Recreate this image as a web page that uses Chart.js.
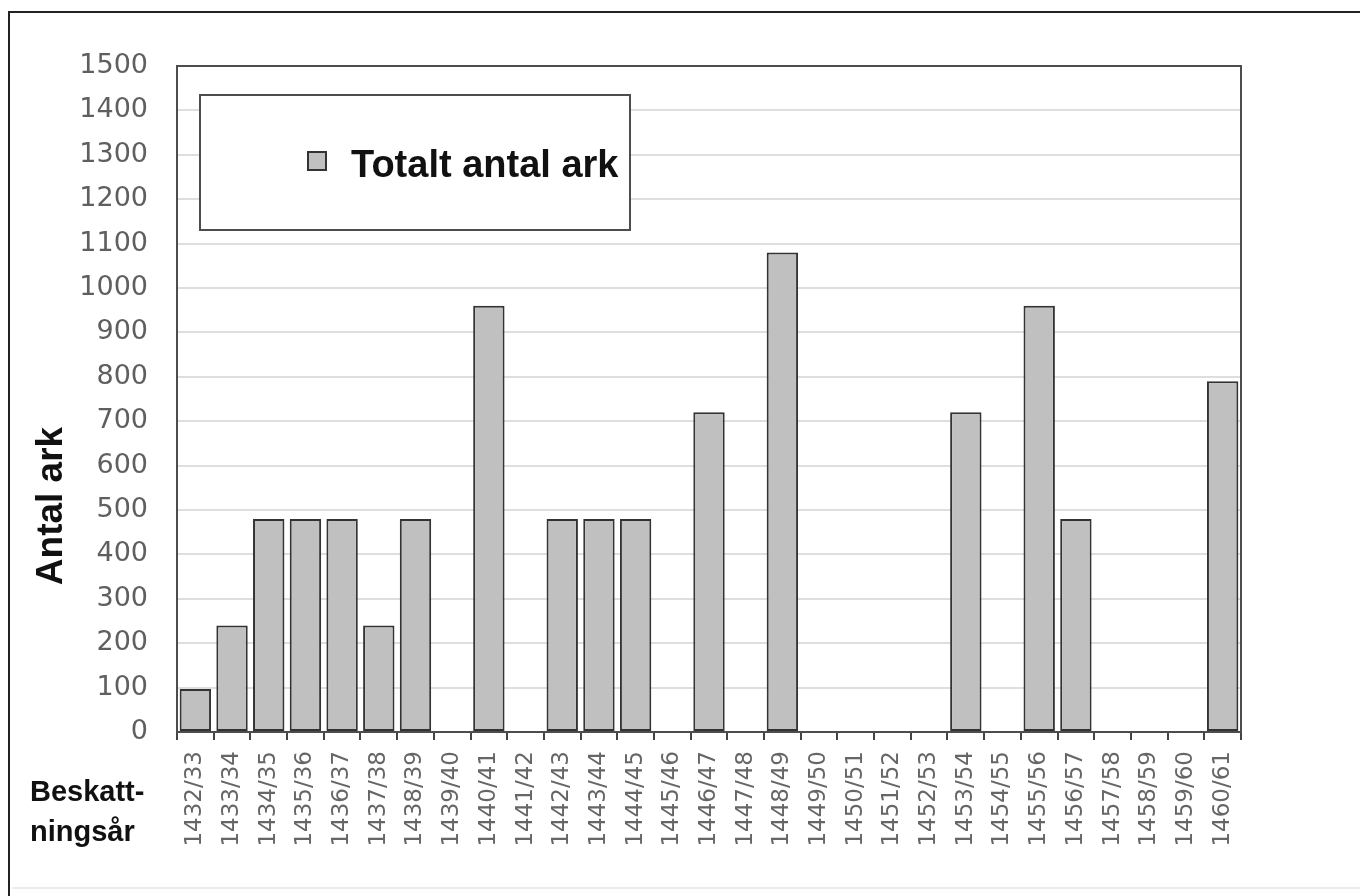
<!DOCTYPE html>
<html>
<head>
<meta charset="utf-8">
<title>Totalt antal ark</title>
<script src="https://cdn.jsdelivr.net/npm/chart.js@4.4.1/dist/chart.umd.min.js"></script>
<style>
  html, body { margin: 0; padding: 0; background: #fff; }
  #wrap { position: relative; width: 1360px; height: 896px; }
</style>
</head>
<body>
<div id="wrap"><canvas id="arkChart" width="1360" height="896"></canvas></div>
<script>
// Beskattningsår (tax years)
const years = [
  '1432/33', '1433/34', '1434/35', '1435/36', '1436/37', '1437/38', '1438/39',
  '1439/40', '1440/41', '1441/42', '1442/43', '1443/44', '1444/45', '1445/46',
  '1446/47', '1447/48', '1448/49', '1449/50', '1450/51', '1451/52', '1452/53',
  '1453/54', '1454/55', '1455/56', '1456/57', '1457/58', '1458/59', '1459/60',
  '1460/61'
];

// Totalt antal ark per year
const totalSheets = [
  97, 240, 480, 480, 480, 240, 480,
  0, 960, 0, 480, 480, 480, 0,
  720, 0, 1080, 0, 0, 0, 0,
  720, 0, 960, 480, 0, 0, 0,
  790
];

const seriesLabel = 'Totalt antal ark';
const yTitle = 'Antal ark';
const xTitleLines = ['Beskatt-', 'ningsår'];

const barFill = '#c0c0c0';
const barEdge = '#333';

// Draws the page frame, plot border, legend box and the axis titles
const decorations = {
  id: 'decorations',
  beforeDraw(chart) {
    const ctx = chart.ctx;
    ctx.save();
    ctx.fillStyle = '#fff';
    ctx.fillRect(0, 0, chart.width, chart.height);
    // outer frame (top and left dark, bottom faint)
    ctx.strokeStyle = '#222';
    ctx.lineWidth = 2;
    ctx.beginPath();
    ctx.moveTo(9, 896);
    ctx.lineTo(9, 12);
    ctx.lineTo(1360, 12);
    ctx.stroke();
    ctx.strokeStyle = '#e4e4e4';
    ctx.lineWidth = 1.5;
    ctx.beginPath();
    ctx.moveTo(12, 888);
    ctx.lineTo(1360, 888);
    ctx.stroke();
    ctx.restore();
  },
  afterDraw(chart) {
    const ctx = chart.ctx;
    const area = chart.chartArea;
    ctx.save();

    // plot area border
    ctx.strokeStyle = '#4d4d4d';
    ctx.lineWidth = 2;
    ctx.strokeRect(area.left, area.top, area.right - area.left, area.bottom - area.top);

    // legend box inside plot
    ctx.fillStyle = '#fff';
    ctx.fillRect(200, 95, 430, 135);
    ctx.strokeStyle = '#4d4d4d';
    ctx.lineWidth = 2;
    ctx.strokeRect(200, 95, 430, 135);

    ctx.fillStyle = barFill;
    ctx.fillRect(308, 152, 18, 18);
    ctx.strokeStyle = barEdge;
    ctx.lineWidth = 2;
    ctx.strokeRect(308, 152, 18, 18);

    ctx.fillStyle = '#111';
    ctx.font = 'bold 38px "Liberation Sans", Arial, sans-serif';
    ctx.textBaseline = 'alphabetic';
    ctx.textAlign = 'left';
    ctx.fillText(seriesLabel, 351, 177);

    // x axis title on two lines
    ctx.font = 'bold 29px "Liberation Sans", Arial, sans-serif';
    ctx.fillText(xTitleLines[0], 30, 801);
    ctx.fillText(xTitleLines[1], 30, 841);

    // y axis title, rotated
    ctx.translate(52, 506);
    ctx.rotate(-Math.PI / 2);
    ctx.textAlign = 'center';
    ctx.textBaseline = 'middle';
    ctx.font = 'bold 37px "Liberation Sans", Arial, sans-serif';
    ctx.fillText(yTitle, 0, 0);

    ctx.restore();
  }
};

const ctx = document.getElementById('arkChart').getContext('2d');
const chart = new Chart(ctx, {
  type: 'bar',
  data: {
    labels: years,
    datasets: [{
      label: seriesLabel,
      data: totalSheets,
      backgroundColor: barFill,
      borderColor: barEdge,
      borderWidth: 2,
      borderSkipped: false,
      barPercentage: 0.92,
      categoryPercentage: 0.93
    }]
  },
  options: {
    responsive: false,
    animation: false,
    layout: {
      padding: { top: 66, right: 119, left: 0, bottom: 0 }
    },
    plugins: {
      legend: { display: false },
      tooltip: { enabled: false }
    },
    scales: {
      x: {
        offset: true,
        afterFit: (scale) => { scale.height = 164; },
        grid: {
          offset: true,
          drawOnChartArea: false,
          drawTicks: true,
          tickLength: 8,
          color: '#444',
          lineWidth: 2
        },
        border: { display: true, color: '#444', width: 2 },
        ticks: {
          autoSkip: false,
          minRotation: 90,
          maxRotation: 90,
          padding: 11,
          color: '#666',
          font: { family: '"DejaVu Sans", sans-serif', size: 23 }
        }
      },
      y: {
        min: 0,
        max: 1500,
        afterFit: (scale) => { scale.width = 177; },
        grid: {
          color: '#dedede',
          lineWidth: 2,
          drawTicks: false
        },
        border: { display: true, color: '#4d4d4d', width: 2 },
        ticks: {
          stepSize: 100,
          padding: 29,
          color: '#5f5f5f',
          font: { family: '"DejaVu Sans", sans-serif', size: 27 },
          callback: (value) => String(value)
        }
      }
    }
  },
  plugins: [decorations]
});
</script>
</body>
</html>
